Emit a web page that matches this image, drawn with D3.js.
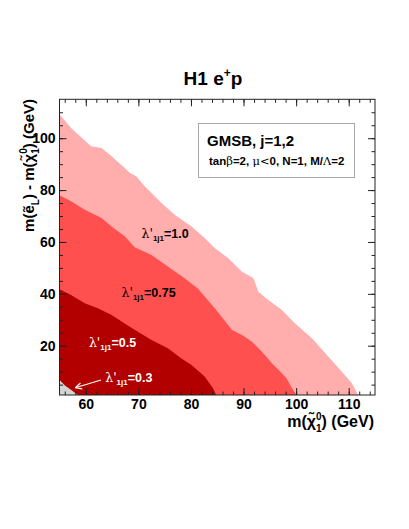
<!DOCTYPE html>
<html>
<head>
<meta charset="utf-8">
<script src="https://cdn.jsdelivr.net/npm/d3@7"></script>
<style>
  body { margin: 0; background: #fff; }
  svg { font-family: "Liberation Sans", Arial, sans-serif; }
</style>
</head>
<body>
<svg id="chart" width="409" height="529"></svg>
<script>
// exclusion contours: [m(chi), m(eL)-m(chi)] in GeV
var lambda10 = [[55,109.2],[57.2,103.9],[61.0,96.9],[63.0,96.2],[64.9,93.0],[67.4,88.5],[68.4,86.6],[69.6,85.3],[71.2,81.5],[74.4,75.0],[76.9,70.5],[80.1,66.0],[82.6,61.5],[84.5,57.7],[87.1,53.7],[89.7,48.5],[91.9,46.0],[92.8,40.8],[94.7,37.6],[97.3,33.8],[99.8,28.6],[103.0,22.9],[106.1,15.8],[108.7,10.0],[110.6,5.5],[111.8,1]];
var lambda075 = [[55,78.0],[57.2,75.7],[59.8,72.4],[63.0,69.2],[64.9,66.0],[67.4,62.2],[69.3,58.0],[72.5,55.0],[75.6,50.5],[78.8,46.0],[81.3,42.1],[84.5,34.5],[87.8,26.1],[89.7,24.1],[91.6,21.5],[93.5,17.7],[95.4,13.2],[97.3,9.4],[98.2,7.4],[99.2,3.6],[100.1,1]];
var lambda05 = [[55,41.8],[57.2,39.6],[59.8,36.4],[62.3,34.4],[64.9,31.8],[67.4,28.6],[69.9,25.4],[72.5,22.2],[75.6,19.0],[78.2,15.1],[80.1,12.6],[82.6,8.1],[84.2,3.6],[84.8,1]];
var lambda03 = [[55,6.8],[56.1,4.6],[57.3,2.8],[58.5,1]];

var xMajor = [60,70,80,90,100,110];
var xMinor = d3.range(56,115,2);
var yMajor = [20,40,60,80,100];
var yMinor = d3.range(5,115,5);

var svg = d3.select("#chart");

var x = d3.scaleLinear().domain([55,115]).range([59.5,375]);
var y = d3.scaleLinear().domain([1,115]).range([395,99.3]);

// regions, biggest first
var regions = [
  {pts: lambda10, color: "#ffadad"},
  {pts: lambda075, color: "#ff5050"},
  {pts: lambda05, color: "#b20000"},
  {pts: lambda03, color: "#d4d4d4"}
];

var line = d3.line().x(function(d){ return x(d[0]); }).y(function(d){ return y(d[1]); });

regions.forEach(function(r){
  var p = r.pts.concat([[55,1]]);
  svg.append("path")
    .attr("d", line(p) + "Z")
    .attr("fill", r.color);
});

// axes with inside ticks
function drawAxis(axis, tx, ty, labels){
  var g = svg.append("g").attr("transform", "translate(" + tx + "," + ty + ")").call(axis);
  g.select(".domain").remove();
  g.selectAll("line").attr("stroke", "#222");
  g.selectAll("text").attr("font-size", 14).attr("font-weight", "bold").attr("fill", "#000");
  if (!labels) g.selectAll("text").remove();
  return g;
}

drawAxis(d3.axisBottom(x).tickValues(xMajor).tickSize(-7).tickPadding(4).tickFormat(d3.format("d")), 0, 395, true);
drawAxis(d3.axisBottom(x).tickValues(xMinor).tickSize(-3.5), 0, 395, false);
drawAxis(d3.axisTop(x).tickValues(xMajor).tickSize(-7), 0, 99.3, false);
drawAxis(d3.axisTop(x).tickValues(xMinor).tickSize(-3.5), 0, 99.3, false);
drawAxis(d3.axisLeft(y).tickValues(yMajor).tickSize(-7).tickPadding(4).tickFormat(d3.format("d")), 59.5, 0, true);
drawAxis(d3.axisLeft(y).tickValues(yMinor).tickSize(-3.5), 59.5, 0, false);
drawAxis(d3.axisRight(y).tickValues(yMajor).tickSize(-7), 375, 0, false);
drawAxis(d3.axisRight(y).tickValues(yMinor).tickSize(-3.5), 375, 0, false);

svg.append("rect")
  .attr("x", 59.5).attr("y", 99.3)
  .attr("width", 375 - 59.5).attr("height", 395 - 99.3)
  .attr("fill", "none").attr("stroke", "#222").attr("stroke-width", 1);

// title
var title = svg.append("text").attr("x", 213).attr("y", 85)
  .attr("text-anchor", "middle").attr("font-size", 19).attr("font-weight", "bold");
title.append("tspan").text("H1 e");
title.append("tspan").attr("font-size", 12).attr("dy", -8).text("+");
title.append("tspan").attr("dy", 8).text("p");

// axis titles
var xt = svg.append("text").attr("x", 374).attr("y", 427)
  .attr("text-anchor", "end").attr("font-size", 16).attr("font-weight", "bold");
xt.append("tspan").text("m(\u03c7\u0303");
xt.append("tspan").attr("font-size", 10).attr("dy", -7).text("0");
xt.append("tspan").attr("font-size", 10).attr("dx", -5.5).attr("dy", 12).text("1");
xt.append("tspan").attr("dy", -5).text(") (GeV)");

var yt = svg.append("text").attr("transform", "translate(34,99) rotate(-90)")
  .attr("text-anchor", "end").attr("font-size", 15).attr("font-weight", "bold");
yt.append("tspan").text("m(\u1ebd");
yt.append("tspan").attr("font-size", 10).attr("dy", 5).text("L");
yt.append("tspan").attr("dy", -5).text(") - m(\u03c7\u0303");
yt.append("tspan").attr("font-size", 10).attr("dy", -7).text("0");
yt.append("tspan").attr("font-size", 10).attr("dx", -5.5).attr("dy", 12).text("1");
yt.append("tspan").attr("dy", -5).text(") (GeV)");

// legend box
svg.append("rect").attr("x", 198.5).attr("y", 123.5).attr("width", 156).attr("height", 54)
  .attr("fill", "#fff").attr("stroke", "#aaa");
svg.append("text").attr("x", 207).attr("y", 146).attr("font-size", 15).attr("font-weight", "bold")
  .text("GMSB, j=1,2");
var sub = svg.append("text").attr("x", 209).attr("y", 165).attr("font-size", 11.5).attr("font-weight", "bold");
function greek(t, s){ sub.append("tspan").attr("font-family", "DejaVu Serif, serif").attr("font-weight", "normal").text(s); }
sub.append("tspan").text("tan");
greek(sub, "\u03b2");
sub.append("tspan").text("=2, ");
greek(sub, "\u03bc");
greek(sub, "<");
sub.append("tspan").text("0, N=1, M/");
greek(sub, "\u039b");
sub.append("tspan").text("=2");

// contour labels
var labels = [
  {m: 70.6, d: 61.5, v: "1.0", c: "#000"},
  {m: 66.8, d: 38.9, v: "0.75", c: "#000"},
  {m: 60.6, d: 19.4, v: "0.5", c: "#fff"},
  {m: 63.7, d: 5.9, v: "0.3", c: "#fff"}
];
labels.forEach(function(l){
  var t = svg.append("text").attr("x", x(l.m)).attr("y", y(l.d))
    .attr("font-size", 12.5).attr("font-weight", "bold").attr("fill", l.c);
  t.append("tspan").attr("font-family", "DejaVu Serif, serif").attr("font-weight", "normal").text("\u03bb'");
  t.append("tspan").attr("font-size", 8).attr("dy", 3).text("1j1");
  t.append("tspan").attr("dy", -3).text("=" + l.v);
});

// arrow to the 0.3 region
var a0 = [x(62.9), y(6.8)], a1 = [x(58.0), y(3.8)];
svg.append("line").attr("x1", a0[0]).attr("y1", a0[1]).attr("x2", a1[0]).attr("y2", a1[1])
  .attr("stroke", "#fff").attr("stroke-width", 1.2);
var ang = Math.atan2(a0[1] - a1[1], a0[0] - a1[0]);
[-0.45, 0.45].forEach(function(da){
  svg.append("line").attr("x1", a1[0]).attr("y1", a1[1])
    .attr("x2", a1[0] + 7 * Math.cos(ang + da)).attr("y2", a1[1] + 7 * Math.sin(ang + da))
    .attr("stroke", "#fff").attr("stroke-width", 1.2);
});
</script>
</body>
</html>
